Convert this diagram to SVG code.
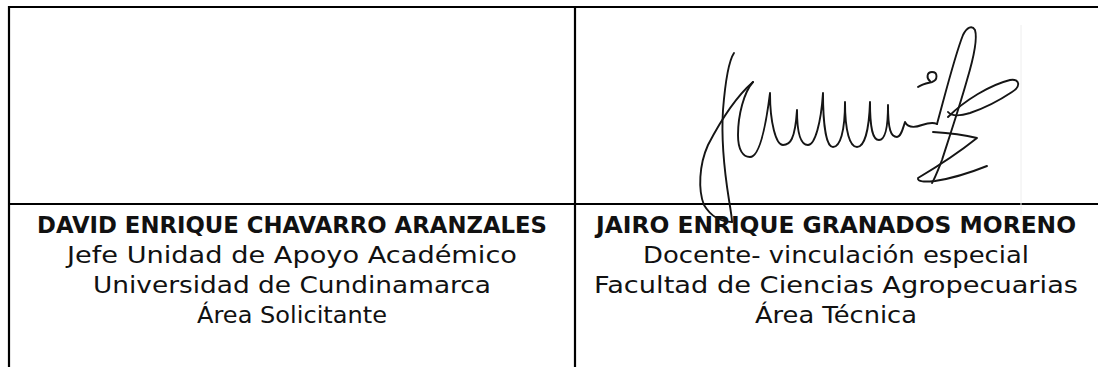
<svg xmlns="http://www.w3.org/2000/svg" width="1098" height="367" viewBox="0 0 1098 367">
<style>
.ln{stroke:#000;stroke-width:2.2;fill:none}
.t{font-family:"DejaVu Sans","Liberation Sans",sans-serif;font-size:23px;fill:#111;text-anchor:middle}
.b{font-weight:bold;font-size:22.5px}
.sig{stroke:#151515;stroke-width:1.9;fill:none;stroke-linecap:round;stroke-linejoin:round}
</style>
<rect width="1098" height="367" fill="#fff"/>
<g id="connectors">
<line class="ln" x1="8" y1="7" x2="1098" y2="7"/>
<line class="ln" x1="9" y1="6" x2="9" y2="367"/>
<line class="ln" x1="575" y1="6" x2="575" y2="367"/>
<line class="ln" x1="8" y1="204" x2="1098" y2="204"/>
<line x1="1021" y1="25" x2="1021" y2="215" stroke="#eee" stroke-width="1"/>
</g>
<g id="node-left">
<text class="t b" x="292" y="233" textLength="510" lengthAdjust="spacingAndGlyphs">DAVID ENRIQUE CHAVARRO ARANZALES</text>
<text class="t" x="292" y="263" textLength="450" lengthAdjust="spacingAndGlyphs">Jefe Unidad de Apoyo Académico</text>
<text class="t" x="292" y="293" textLength="398" lengthAdjust="spacingAndGlyphs">Universidad de Cundinamarca</text>
<text class="t" x="292" y="323" textLength="190" lengthAdjust="spacingAndGlyphs">Área Solicitante</text>
</g>
<g id="node-right">
<text class="t b" x="836" y="233" textLength="480" lengthAdjust="spacingAndGlyphs">JAIRO ENRIQUE GRANADOS MORENO</text>
<text class="t" x="836" y="263" textLength="386" lengthAdjust="spacingAndGlyphs">Docente- vinculación especial</text>
<text class="t" x="836" y="293" textLength="484" lengthAdjust="spacingAndGlyphs">Facultad de Ciencias Agropecuarias</text>
<text class="t" x="836" y="323" textLength="162" lengthAdjust="spacingAndGlyphs">Área Técnica</text>
</g>
<g id="signature">
<path class="sig" d="M734,53 C728,62 725,85 723,110 C721,140 725,175 729,200 C731,212 732,218 732,222"/>
<path class="sig" d="M753,82 C738,95 722,118 708,145 C699,165 698,190 704,205 C710,215 720,222 732,222"/>
<path class="sig" d="M753,82 C744,92 738,115 738,135 C738,150 743,157 750,157 C760,157 766,125 770,93 C770,123 776,145 783,145 C790,145 795,140 797,110 C797,135 801,145 808,145 C815,145 821,123 823,93 C823,123 826,147 833,147 C840,147 845,132 845,102 C845,132 850,147 857,147 C864,147 869,132 870,102 C870,130 873,140 879,140 C885,140 888,130 888,105 C888,130 891,137 897,137 C901,137 903,128 905,122 C908,128 914,128 922,125 C928,123 933,122 937,124"/>
<path class="sig" d="M918,87 C922,84 928,83 932,82 C938,80 938,72 932,72 C927,72 926,78 930,81"/>
<path class="sig" d="M937,124 C945,95 955,55 963,35 C967,27 972,25 975,30 C978,40 973,60 967,80 C960,105 950,135 942,160 C938,170 935,178 932,183"/>
<path class="sig" d="M948,117 C965,100 990,85 1010,80 C1020,78 1021,87 1012,92 C1000,100 985,108 970,113 C960,116 952,117 948,112"/>
<path class="sig" d="M933,132 C950,133 965,135 977,138 C962,150 940,165 918,178 C917,182 925,182 935,181 C955,178 972,172 987,166"/>
</g>
</svg>
